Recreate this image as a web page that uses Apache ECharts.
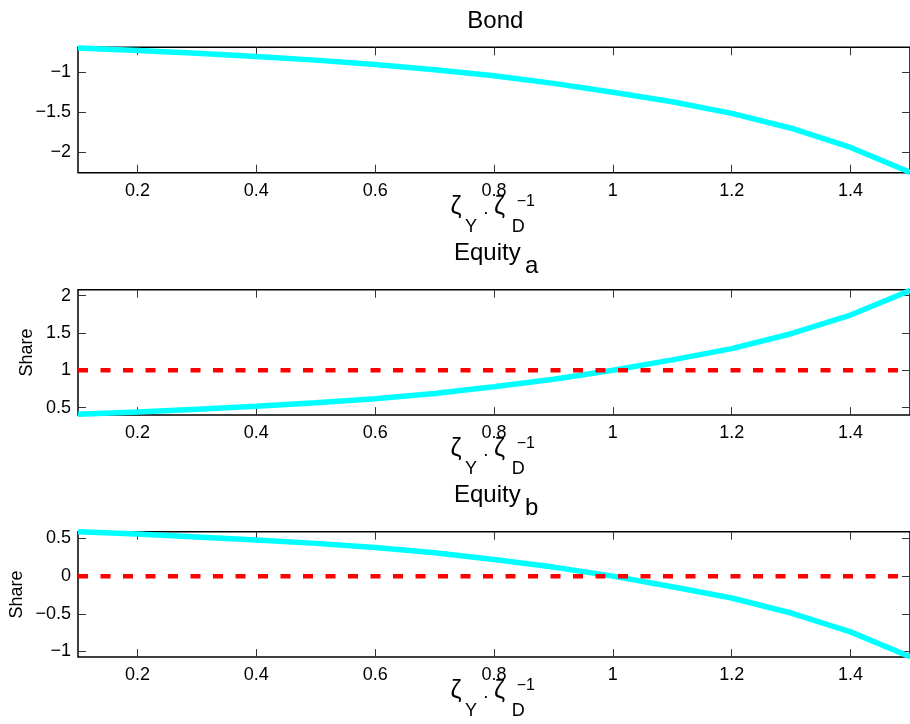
<!DOCTYPE html>
<html><head><meta charset="utf-8">
<script src="https://cdn.jsdelivr.net/npm/echarts@6/dist/echarts.min.js"></script>
<style>html,body{margin:0;padding:0;background:#fff}#c{width:910px;height:724px}</style>
</head><body><div id="c"></div>
<script>
// ---- data ----
const xValues = [0.1, 0.2, 0.3, 0.4, 0.5, 0.6, 0.7, 0.8, 0.9, 1.0, 1.1, 1.2, 1.3, 1.4, 1.5];
const bondShare = [-0.70, -0.73, -0.765, -0.805, -0.85, -0.905, -0.97, -1.045, -1.14, -1.25, -1.37, -1.515, -1.70, -1.94, -2.25];
const equityAShare = [0.41, 0.44, 0.48, 0.52, 0.565, 0.62, 0.69, 0.78, 0.88, 1.0, 1.14, 1.29, 1.49, 1.74, 2.07];
const equityBShare = [0.59, 0.56, 0.52, 0.48, 0.435, 0.38, 0.31, 0.22, 0.12, 0.0, -0.14, -0.29, -0.49, -0.74, -1.07];
const equityARefLevel = [1, 1];
const equityBRefLevel = [0, 0];
const xTicks = [0.2, 0.4, 0.6, 0.8, 1, 1.2, 1.4];
const bondTicks = [-2, -1.5, -1];
const equityATicks = [0.5, 1, 1.5, 2];
const equityBTicks = [-1, -0.5, 0, 0.5];
const bondRange = [-2.255, -0.69];
const equityARange = [0.40, 2.08];
const equityBRange = [-1.075, 0.59];
const xRange = [0.1, 1.5];

// ---- layout ----
const FONT = 'Liberation Sans, Arial, Helvetica, sans-serif';
const panelTops = [47.3, 289.7, 531.7];
const panelH = 125.4;
const gridLeft = 78, gridW = 834.5;
const panelStep = 242;
const shareX = [0, 27.5, 16.7];

const fmt = v => String(v).replace('-', '\u2212');

const grids = [], xAxes = [], yAxes = [], series = [];
const panels = [
  {ticks: bondTicks, range: bondRange, line: bondShare, ref: null},
  {ticks: equityATicks, range: equityARange, line: equityAShare, ref: equityARefLevel},
  {ticks: equityBTicks, range: equityBRange, line: equityBShare, ref: equityBRefLevel}
];
const tickStyle = {show: true, inside: true, length: 8, lineStyle: {color: '#333', width: 1}};
const noLine = {show: false, onZero: false};
panels.forEach((p, i) => {
  grids.push({left: gridLeft, top: panelTops[i], width: gridW, height: panelH, show: true,
    borderColor: '#000', borderWidth: 1.5, backgroundColor: '#fff', containLabel: false});
  xAxes.push({type: 'value', gridIndex: i, min: xRange[0], max: xRange[1], position: 'bottom',
    axisLine: noLine, splitLine: {show: false},
    axisTick: Object.assign({customValues: xTicks}, tickStyle),
    axisLabel: {customValues: xTicks, formatter: fmt, margin: 9, color: '#000', fontSize: 18, fontFamily: FONT}});
  xAxes.push({type: 'value', gridIndex: i, min: xRange[0], max: xRange[1], position: 'top',
    axisLine: noLine, splitLine: {show: false},
    axisTick: Object.assign({customValues: xTicks}, tickStyle), axisLabel: {show: false}});
  yAxes.push({type: 'value', gridIndex: i, min: p.range[0], max: p.range[1], position: 'left',
    axisLine: noLine, splitLine: {show: false},
    axisTick: Object.assign({customValues: p.ticks}, tickStyle),
    axisLabel: {customValues: p.ticks, formatter: fmt, margin: 7, color: '#000', fontSize: 18, fontFamily: FONT}});
  yAxes.push({type: 'value', gridIndex: i, min: p.range[0], max: p.range[1], position: 'right',
    axisLine: noLine, splitLine: {show: false},
    axisTick: Object.assign({customValues: p.ticks}, tickStyle), axisLabel: {show: false}});
  series.push({type: 'line', xAxisIndex: 2 * i, yAxisIndex: 2 * i, showSymbol: false, clip: false,
    data: xValues.map((x, k) => [x, p.line[k]]),
    lineStyle: {color: '#00ffff', width: 5.5}, itemStyle: {color: '#00ffff'}, silent: true, animation: false});
  if (p.ref) {
    series.push({type: 'line', xAxisIndex: 2 * i, yAxisIndex: 2 * i, showSymbol: false,
      data: [[xValues[0], p.ref[0]], [xValues[xValues.length - 1], p.ref[1]]],
      lineStyle: {color: '#ff0000', width: 4.5, type: [10, 12.5], cap: 'butt'}, silent: true, animation: false});
  }
});

// text pieces: baseline coordinates, converted for 'middle' alignment
const K = 0.35;
function txt(s, x, baseline, fs, align) {
  return {type: 'text', x: x, y: baseline - K * fs, silent: true,
    style: {text: s, font: fs + 'px ' + FONT, fill: '#000', align: align || 'left', verticalAlign: 'middle'}};
}
const graphics = [];
// titles
graphics.push(txt('Bond', 495.3, 30, 24, 'center'));
[['a', 1], ['b', 2]].forEach(([sub, i]) => {
  const dy = panelStep * (i - 1);
  graphics.push(txt('Equity', 454, 261.7 + dy, 24));
  graphics.push(txt(sub, 525, 275 + dy, 24));
});
// x labels
for (let i = 0; i < 3; i++) {
  const dy = panelStep * i;
  graphics.push(txt('\u03B6', 450.5, 216 + dy, 25));
  graphics.push(txt('Y', 465, 233.3 + dy, 18));
  graphics.push(txt('\u00B7', 486, 219 + dy, 19, 'center'));
  graphics.push(txt('\u03B6', 494, 216 + dy, 25));
  graphics.push(txt('D', 511.7, 233.3 + dy, 18));
  graphics.push(txt('\u22121', 516.7, 206.7 + dy, 16));
}
// y labels "Share"
[1, 2].forEach(i => {
  graphics.push({type: 'text', x: shareX[i], y: panelTops[i] + panelH / 2, rotation: Math.PI / 2, silent: true,
    style: {text: 'Share', font: '18px ' + FONT, fill: '#000', align: 'center', verticalAlign: 'middle'}});
});

const chart = echarts.init(document.getElementById('c'), null, {renderer: 'canvas'});
chart.setOption({
  animation: false,
  backgroundColor: '#fff',
  grid: grids, xAxis: xAxes, yAxis: yAxes, series: series,
  graphic: graphics
});
</script></body></html>
